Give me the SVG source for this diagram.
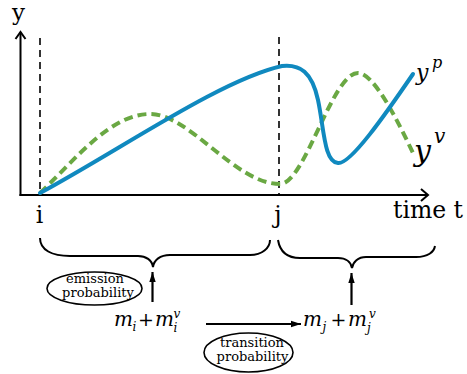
<svg xmlns="http://www.w3.org/2000/svg" width="467" height="374" viewBox="0 0 467 374">
<defs>
<marker id="ah" markerUnits="userSpaceOnUse" markerWidth="12" markerHeight="8" refX="10" refY="4" orient="auto">
<path d="M0,0.8 L10,4 L0,7.2 Z" fill="#000"/>
</marker>
</defs>
<style>
.ax{stroke:#000;stroke-width:2;fill:none}
.vd{stroke:#000;stroke-width:1.6;stroke-dasharray:7 5;fill:none}
.blue{stroke:#1089bf;stroke-width:4;fill:none;stroke-linecap:round}
.green{stroke:#6aa843;stroke-width:4;fill:none;stroke-dasharray:9 5}
.brace{stroke:#000;stroke-width:2;fill:none}
.lbl{font-family:"DejaVu Serif","Liberation Serif",serif;fill:#000}
.it{font-family:"DejaVu Serif","Liberation Serif",serif;font-style:italic;fill:#000}
.ell{stroke:#000;stroke-width:1.6;fill:#fff}
.small{font-family:"DejaVu Serif","Liberation Serif",serif;font-size:13px;fill:#000;text-anchor:middle}
.con{stroke:#000;stroke-width:2.2;fill:none}
</style>
<g id="axes">
<line class="ax" x1="20.5" y1="196" x2="20.5" y2="32"/>
<polyline class="ax" points="15.5,39 20.5,32 25.5,39"/>
<line class="ax" x1="19.5" y1="195" x2="428" y2="195"/>
<polyline class="ax" points="421,189 428,195 421,201"/>
<line class="vd" x1="40" y1="38" x2="40" y2="195"/>
<line class="vd" x1="279" y1="37" x2="279" y2="195"/>
<text class="lbl" x="18.5" y="20" font-size="23" text-anchor="middle">y</text>
<text class="lbl" x="393" y="218" font-size="23.5">time t</text>
<text class="lbl" x="39.5" y="223" font-size="23.5" text-anchor="middle">i</text>
<text class="lbl" x="278" y="223" font-size="23.5" text-anchor="middle">j</text>
</g>
<g id="curves">
<path class="green" d="M40,193 C75,160 110,114 150,114 C190,114 235,184 280,184 C305,184 332,73 358,73 C373,73 395,115 413,153"/>
<path class="blue" d="M40,193 C120,150 220,80 282,66 C300,64 312,72 318,100 C324,128 324,162 338,163 C350,165 385,115 413,74"/>
<text class="it" x="416" y="80" font-size="22">y</text>
<text class="it" x="432" y="68" font-size="16">p</text>
<text class="it" x="414" y="161" font-size="30">y</text>
<text class="it" x="434" y="143" font-size="20">v</text>
</g>
<g id="braces">
<path class="brace" d="M40,238 C40,250 52,256 70,256 L138,256 C146,256 152,260 153,267 C154,260 160,255 170,255 L250,255 C262,255 270,248 270,240"/>
<path class="brace" d="M278,240 C280,252 288,258 300,258 L338,258 C346,258 351,262 352,268 C353,262 358,257 366,257 L416,257 C428,257 434,252 435,246"/>
</g>
<g id="emission">
<ellipse class="ell" cx="94.5" cy="288.5" rx="47.5" ry="16.5"/>
<text class="small" x="95" y="283">emission</text>
<text class="small" x="98" y="296.5">probability</text>
</g>
<g id="transition">
<ellipse class="ell" cx="248.5" cy="352.5" rx="44.5" ry="19.5"/>
<text class="small" x="252" y="346.5">transition</text>
<text class="small" x="252.5" y="360.5">probability</text>
</g>
<g id="mi">
<text class="it" font-size="20" y="326"><tspan x="114">m</tspan><tspan x="132.5" y="331" font-size="12">i</tspan><tspan x="138" y="326" font-style="normal" font-size="19">+</tspan><tspan x="155" y="326">m</tspan><tspan x="173.5" y="332" font-size="12">i</tspan><tspan x="173.5" y="318" font-size="12">v</tspan></text>
</g>
<g id="mj">
<text class="it" font-size="20" y="326"><tspan x="303">m</tspan><tspan x="322.5" y="331" font-size="12">j</tspan><tspan x="330.5" y="326" font-style="normal" font-size="19">+</tspan><tspan x="348" y="326">m</tspan><tspan x="367" y="332" font-size="12">j</tspan><tspan x="369" y="318" font-size="12">v</tspan></text>
</g>
<g id="connectors">
<line class="con" x1="152.5" y1="302" x2="152.5" y2="272" marker-end="url(#ah)"/>
<line class="con" x1="351.5" y1="305" x2="351.5" y2="273" marker-end="url(#ah)"/>
<line class="con" x1="206" y1="324" x2="301" y2="324" marker-end="url(#ah)"/>
</g>
</svg>
